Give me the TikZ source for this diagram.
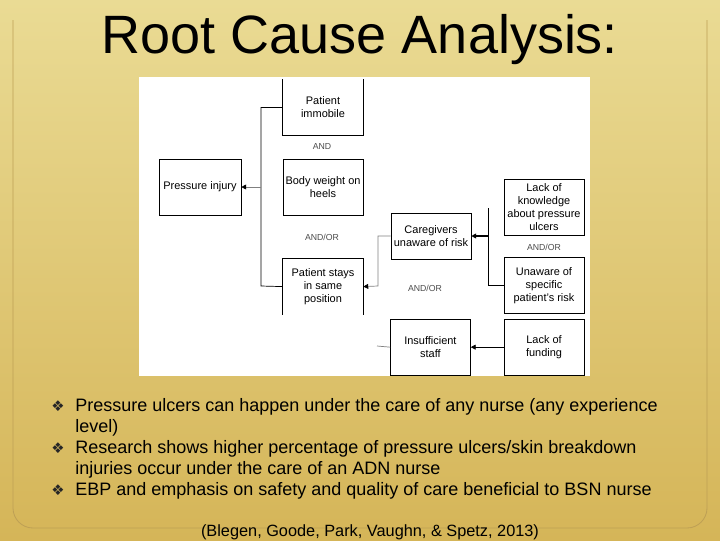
\documentclass[tikz,border=0pt]{standalone}
\usepackage{fontspec}
\setmainfont{Liberation Sans}
\newfontfamily\symfont{DejaVu Sans}
\usepackage{xcolor}
\usetikzlibrary{arrows.meta, positioning}

\definecolor{bgtop}{RGB}{234,219,148}
\definecolor{bgbot}{RGB}{213,181,88}
\definecolor{framegold}{RGB}{190,160,85}

\begin{document}
\begin{tikzpicture}[
    x=0.025cm, y=-0.025cm,
    block/.style={rectangle, draw, minimum width=2cm, minimum height=1.4cm, align=center, font=\fontsize{7.8}{9.2}\selectfont, inner sep=1pt},
    openblock/.style={block, draw=none},
    gate/.style={font=\fontsize{6.2}{7}\selectfont, text=black!70},
    line/.style={draw, line width=0.5pt},
    grayline/.style={draw, gray, line width=0.5pt},
    arrow/.style={draw, -{Triangle[length=3.5pt, width=3.5pt, color=black]}, line width=0.5pt},
    bullet/.style={font=\symfont\fontsize{10.5}{11}\selectfont, text=black!85},
    item/.style={anchor=base west, align=left, inner sep=0pt, font=\fontsize{12.8}{14.9}\selectfont}
]
    % Background
    \clip (0,0) rectangle (720,540);
    \shade [top color=bgtop, bottom color=bgbot] (0,0) rectangle (720,540);
    \draw [framegold, line width=0.6pt, rounded corners=0.5cm] (13,20) |- (707,528) -- (707,20);
    \fill [white] (139,77) rectangle (590,376);

    % Title
    \node [anchor=base, font=\fontsize{38.4}{40}\selectfont] (title) at (360,53) {Root Cause Analysis:};

    % Nodes
    \node [block, minimum width=2.05cm] (injury) at (200,187) {Pressure injury};
    \node [block] (heels) at (323,187) {Body weight on\\heels};
    \node [openblock, above=0.575cm of heels] (immobile) {Patient\\immobile};
    \node [openblock, below=1.075cm of heels] (stays) {Patient stays\\in same\\position};
    \node [block, minimum height=1.15cm] (caregivers) at (431,236) {Caregivers\\unaware of risk};
    \node [block] (knowledge) at (544,207) {Lack of\\knowledge\\about pressure\\ulcers};
    \node [block, below=0.55cm of knowledge] (specific) {Unaware of\\specific\\patient's risk};
    \node [block, below=0.125cm of specific] (funding) {Lack of\\funding};
    \node [block, left=0.825cm of funding] (staff) {Insufficient\\staff};

    \node [gate] (and1) at (322,146) {AND};
    \node [gate] (andor1) at (322,237) {AND/OR};
    \node [gate] (andor2) at (425,288) {AND/OR};
    \node [gate] (andor3) at (544,247) {AND/OR};

    \coordinate (bus) at (261,286);
    \coordinate (join) at (378,286);
    \coordinate (fork) at (488,208);
    \coordinate (stub) at (377,346);

    % Paths
    \path [line] (immobile.north west) -- (immobile.south west) -- (immobile.south east) -- (immobile.north east);
    \path [line] (stays.south west) -- (stays.north west) -- (stays.north east) -- (stays.south east);
    \path [line] (immobile.west) -| (bus) -- (stays.west);
    \path [arrow, gray] (bus |- injury.east) -- (injury.east);
    \path [arrow, gray] (caregivers.west) -| (join) -- (stays.east);
    \path [line] (fork) |- (specific.west);
    \path [arrow, line width=0.8pt] (fork |- caregivers.east) -- (caregivers.east);
    \path [arrow] (funding) -- (staff);
    \path [grayline] (staff.west) -- (stub);

    % Bullets
    \node [bullet] (dot1) at (58,406) {❖};
    \node [bullet] (dot2) at (58,448) {❖};
    \node [bullet] (dot3) at (58,490) {❖};
    \node [item] (item1) at (75,432) {Pressure ulcers can happen under the care of any nurse (any experience\\level)};
    \node [item] (item2) at (75,474) {Research shows higher percentage of pressure ulcers/skin breakdown\\injuries occur under the care of an ADN nurse};
    \node [item] (item3) at (75,495) {EBP and emphasis on safety and quality of care beneficial to BSN nurse};
    \node [anchor=base, font=\fontsize{11.6}{14}\selectfont] (cite) at (370,536) {(Blegen, Goode, Park, Vaughn, \& Spetz, 2013)};
\end{tikzpicture}
\end{document}
